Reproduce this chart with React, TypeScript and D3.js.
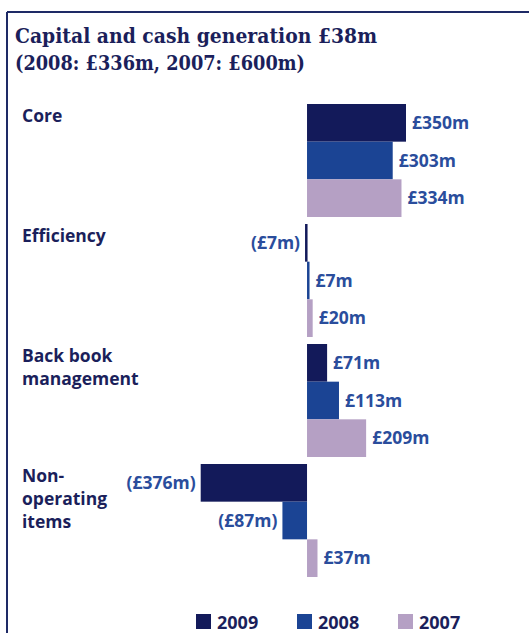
import React from "react";
import * as d3 from "d3";

const categories: string[][] = [
  ["Core"],
  ["Efficiency"],
  ["Back book", "management"],
  ["Non-", "operating", "items"],
];
const categoryKeys = ["Core", "Efficiency", "Back book management", "Non-operating items"];
const years = ["2009", "2008", "2007"];
const values2009 = [350, -7, 71, -376];
const values2008 = [303, 7, 113, -87];
const values2007 = [334, 20, 209, 37];
const titleLines = ["Capital and cash generation £38m", "(2008: £336m, 2007: £600m)"];

const W = 529;
const H = 633;
const colors: Record<string, string> = { "2009": "#131a5a", "2008": "#1b4494", "2007": "#b5a0c4" };
const navy = "#1b1f5b";
const labelColor = "#2a4d9c";
const sans = "'Open Sans', 'Noto Sans', sans-serif";

const fmt = (v: number) => (v < 0 ? `(£${-v}m)` : `£${v}m`);

export default function App() {
  const series = [values2009, values2008, values2007];
  const x = d3.scaleLinear().domain([-376, 350]).range([200.7, 406]);
  const y = d3
    .scaleBand<string>()
    .domain(categoryKeys)
    .range([104, 577])
    .paddingInner(7 / 120)
    .paddingOuter(0);
  const yi = d3.scaleBand<string>().domain(years).range([0, y.bandwidth()]);
  const legendX = d3.scalePoint<string>().domain(years).range([196, 398]);
  const titleWidths = [362, 290];

  return (
    <svg
      width={W}
      height={H}
      style={{ position: "absolute", left: 0, top: 0, background: "#fff" }}
    >
      <line x1={7} y1={12} x2={W} y2={12} stroke="#1e2a66" strokeWidth={2} />
      <line x1={7} y1={12} x2={7} y2={H} stroke="#1e2a66" strokeWidth={2} />
      {titleLines.map((t, i) => (
        <text
          key={i}
          x={15}
          y={43 + i * 27}
          fill={navy}
          fontFamily="'DejaVu Serif', 'Liberation Serif', serif"
          fontWeight="bold"
          fontSize={21}
          textLength={titleWidths[i]}
          lengthAdjust="spacingAndGlyphs"
        >
          {t}
        </text>
      ))}
      {categoryKeys.map((c, ci) => {
        const gy = y(c)!;
        return (
          <g key={c}>
            <text x={22} y={gy + 18} fill={navy} fontFamily={sans} fontWeight={700} fontSize={17.5}>
              {categories[ci].map((line, li) => (
                <tspan key={li} x={22} dy={li === 0 ? 0 : 23}>
                  {line}
                </tspan>
              ))}
            </text>
            {years.map((yr, si) => {
              const v = series[si][ci];
              const by = gy + yi(yr)!;
              const x0 = x(Math.min(0, v));
              const x1 = x(Math.max(0, v));
              const cy = by + yi.bandwidth() / 2;
              return (
                <g key={yr}>
                  <rect x={x0} y={by} width={Math.max(2.5, x1 - x0)} height={yi.bandwidth()} fill={colors[yr]} />
                  <text
                    x={v < 0 ? x0 - 5 : x0 + Math.max(2.5, x1 - x0) + 6}
                    y={cy + 6}
                    textAnchor={v < 0 ? "end" : "start"}
                    fill={labelColor}
                    fontFamily={sans}
                    fontWeight={700}
                    fontSize={17.5}
                  >
                    {fmt(v)}
                  </text>
                </g>
              );
            })}
          </g>
        );
      })}
      {years.map((yr) => {
        const lx = legendX(yr)!;
        return (
          <g key={yr}>
            <rect x={lx} y={614} width={15} height={15} fill={colors[yr]} />
            <text x={lx + 21} y={629} fill={navy} fontFamily={sans} fontWeight={700} fontSize={18}>
              {yr}
            </text>
          </g>
        );
      })}
    </svg>
  );
}
